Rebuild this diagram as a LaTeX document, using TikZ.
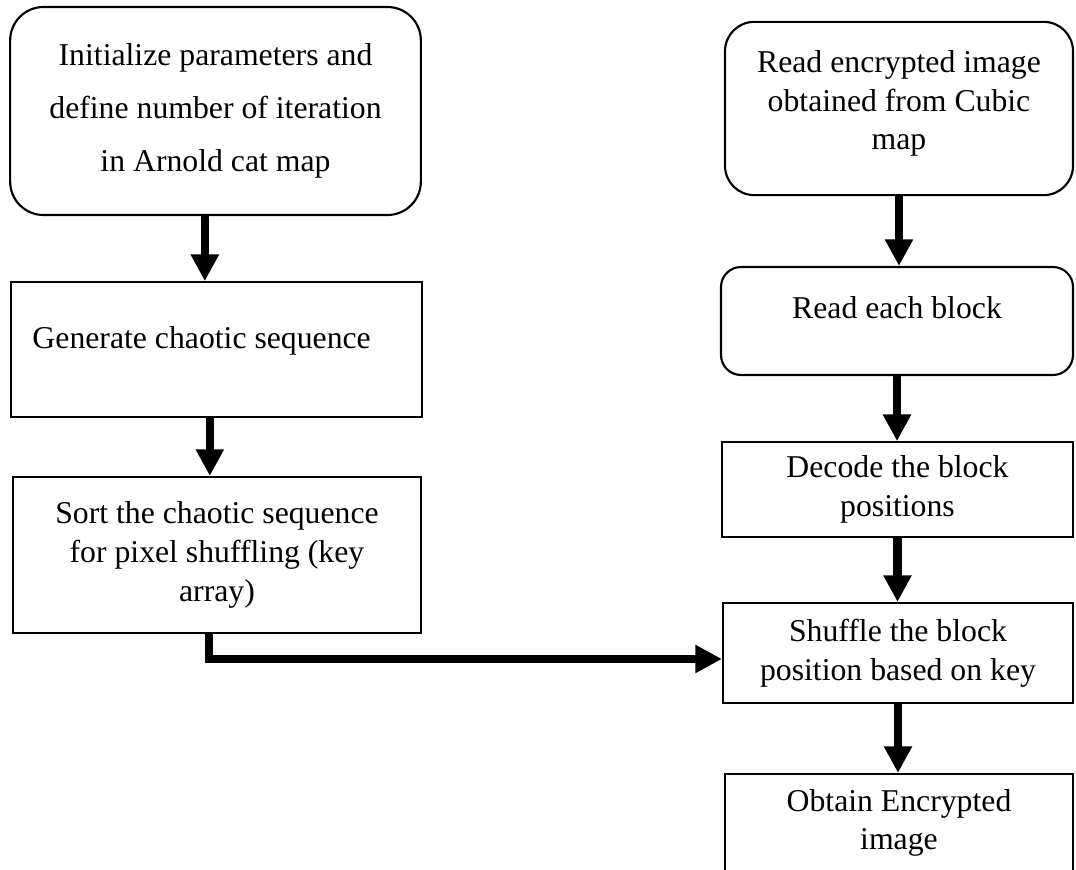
\documentclass[tikz,border=0pt]{standalone}
\usepackage{fontspec}
\setmainfont{Liberation Serif}
\usepackage{tikz}
\usetikzlibrary{arrows.meta,positioning}

\begin{document}
\begin{tikzpicture}[x=0.75pt,y=-0.75pt,
  boxnode/.style={draw,line width=1.6pt,align=center,inner sep=0pt,
    font=\fontsize{23.8}{29}\selectfont},
  roundbox/.style={boxnode,rounded corners=#1},
  flow/.style={line width=6.5pt,-{Triangle[length=20pt,width=20pt]}},
]
  \useasboundingbox (0,0) rectangle (1076,870);

  % left column: key generation
  \node[roundbox=25pt,minimum width=308pt,minimum height=156pt,
    font=\fontsize{23.8}{40}\selectfont] (init) at (215.5,111)
    {Initialize parameters and\\define number of iteration\\in Arnold cat map};
  \node[boxnode,align=flush left,text width=276pt,inner xsep=16pt,
    minimum height=101pt,text height=16pt,text depth=17pt] (gen) at (216.5,349.5)
    {Generate chaotic sequence};
  \node[boxnode,minimum width=306pt,minimum height=117pt] (sort) at (217,555)
    {Sort the chaotic sequence\\for pixel shuffling (key\\array)};

  % right column: block shuffling
  \node[roundbox=22pt,minimum width=261pt,minimum height=130pt,
    text height=75pt,text depth=13pt] (readimg) at (899,108.5)
    {Read encrypted image\\obtained from Cubic\\map};
  \node[roundbox=15pt,minimum width=264pt,minimum height=81pt,
    text height=16pt,text depth=19pt] (readblk) at (897,321)
    {Read each block};
  \node[boxnode,minimum width=263pt,minimum height=71pt] (decode) at (897.5,489.5)
    {Decode the block\\positions};
  \node[boxnode,minimum width=262.5pt,minimum height=75pt] (shuffle) at (898,653)
    {Shuffle the block\\position based on key};
  \node[boxnode,minimum width=261pt,minimum height=73.5pt] (obtain) at (899,823)
    {Obtain Encrypted\\image};

  % arrows
  \draw[flow] ([xshift=-8pt]init.south) -- ([xshift=-8pt]init.south |- gen.north);
  \draw[flow] ([xshift=-5pt]gen.south) -- ([xshift=-5pt]gen.south |- sort.north);
  \draw[flow] (readimg.south) -- (readimg.south |- readblk.north);
  \draw[flow] (readblk.south) -- (readblk.south |- decode.north);
  \draw[flow] (decode.south) -- (decode.south |- shuffle.north);
  \draw[flow] (shuffle.south) -- (shuffle.south |- obtain.north);

  % key array goes to the shuffling step
  \draw[flow] ([xshift=-6pt]sort.south) |- ([yshift=-4.5pt]shuffle.west);
\end{tikzpicture}
\end{document}
